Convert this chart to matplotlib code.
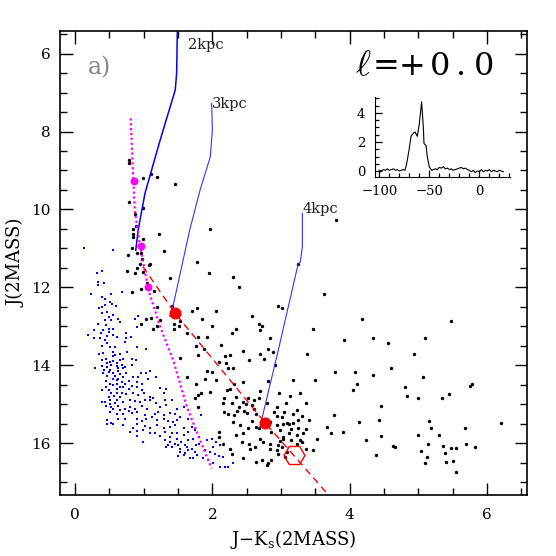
import matplotlib
matplotlib.use('Agg')
import matplotlib.pyplot as plt
from matplotlib.ticker import MultipleLocator

plt.rcParams['font.family'] = ['DejaVu Serif', 'DejaVu Sans']
plt.rcParams['mathtext.fontset'] = 'dejavuserif'

# ---------------- data ----------------
black_pts = [
    (0.78, 8.72), (0.79, 8.82), (0.99, 9.20), (1.10, 9.08), (1.20, 9.16), (1.46, 9.35),
    (0.79, 9.82), (0.88, 10.12), (0.99, 9.96), (0.85, 10.49), (0.89, 10.43), (1.97, 10.51),
    (3.80, 10.28),
    (0.85, 10.63), (0.84, 10.72), (0.99, 10.77), (1.22, 10.62), (0.83, 11.00), (0.77, 11.16),
    (0.91, 11.13), (0.96, 11.11), (1.29, 11.06), (0.97, 11.28), (0.95, 11.39), (1.09, 11.39),
    (1.08, 11.42), (0.91, 11.51), (0.76, 11.58), (0.87, 11.64), (0.99, 11.60), (1.38, 11.76),
    (1.77, 11.35), (1.05, 11.88), (0.96, 12.04), (0.83, 12.12), (1.15, 12.10), (1.20, 12.50),
    (1.41, 12.48), (1.77, 12.54), (1.71, 12.61), (1.03, 12.80), (1.11, 12.79), (0.96, 12.93),
    (1.24, 12.84), (1.53, 12.86), (1.44, 12.95), (1.51, 13.00), (1.44, 13.07), (1.13, 13.07),
    (1.20, 13.00), (1.63, 13.17), (1.79, 13.27), (1.76, 13.51),
    (1.53, 13.81), (1.79, 13.74), (1.63, 14.30), (1.76, 14.49), (1.79, 14.77), (1.75, 14.83),
    (1.79, 15.07),
    (3.25, 11.39), (1.95, 11.64), (2.30, 11.73), (2.39, 11.99), (2.05, 12.60), (2.95, 12.48),
    (3.02, 12.54), (1.85, 12.81), (2.57, 12.73), (2.68, 12.94), (2.72, 13.00), (2.00, 13.00),
    (2.34, 13.07), (2.69, 13.10), (2.28, 13.17), (3.47, 13.07), (1.92, 13.28), (2.84, 13.29),
    (2.12, 13.48), (1.88, 13.58), (2.81, 13.58),
    (2.18, 13.77), (2.26, 13.74), (2.44, 13.64), (2.69, 13.71), (2.89, 13.65), (3.38, 13.70),
    (2.10, 13.91), (2.20, 13.95), (2.54, 13.87), (2.75, 13.85), (2.91, 14.00),
    (2.23, 14.08), (2.30, 14.08), (1.92, 14.14), (2.00, 14.17),
    (1.89, 14.36), (2.05, 14.38), (2.45, 14.44), (2.32, 14.48), (2.81, 14.41), (3.18, 14.37),
    (3.49, 14.38),
    (2.26, 14.60), (2.21, 14.64), (2.70, 14.66), (2.97, 14.70), (3.28, 14.71), (1.84, 14.70),
    (1.96, 14.68),
    (2.17, 14.85), (2.34, 14.81), (2.52, 14.85), (2.60, 14.90), (2.68, 14.85), (3.13, 14.78),
    (2.16, 14.96), (2.28, 14.96), (2.45, 14.94), (2.49, 15.00), (2.57, 15.02), (2.79, 14.98),
    (3.07, 14.96), (3.36, 14.96),
    (2.39, 15.07), (2.36, 15.17), (2.60, 15.11), (2.94, 15.08), (2.90, 15.19), (3.23, 15.15),
    (3.17, 15.26), (3.04, 15.19),
    (2.17, 15.19), (2.23, 15.26), (2.32, 15.28), (2.46, 15.17), (2.50, 15.22), (2.64, 15.26),
    (2.94, 15.31), (3.01, 15.32), (3.41, 15.41), (3.31, 15.30),
    (2.30, 15.45), (2.57, 15.43), (2.84, 15.45), (3.08, 15.48), (3.11, 15.51), (3.03, 15.51),
    (3.18, 15.49), (3.25, 15.41),
    (2.40, 15.54), (2.52, 15.60), (2.64, 15.58), (2.94, 15.54), (2.68, 15.62), (2.98, 15.67),
    (3.15, 15.64), (3.37, 15.64), (3.24, 15.60),
    (2.09, 15.71), (2.45, 15.75), (2.86, 15.71), (3.11, 15.75), (3.03, 15.84), (3.23, 15.79),
    (3.32, 15.75),
    (2.09, 15.84), (2.35, 15.79), (2.69, 15.88), (3.03, 15.88), (2.98, 15.94), (3.14, 15.91),
    (3.28, 15.92), (3.52, 15.88),
    (2.16, 16.01), (2.43, 15.98), (2.54, 16.03), (2.73, 15.97), (2.84, 16.01), (2.96, 16.05),
    (3.01, 16.09), (3.23, 16.01), (3.30, 15.97),
    (2.25, 16.14), (2.55, 16.14), (2.62, 16.09), (2.84, 16.16), (2.94, 16.18), (3.08, 16.22),
    (3.37, 16.16), (3.47, 16.18),
    (2.28, 16.27), (2.45, 16.39), (2.72, 16.44), (2.86, 16.42), (2.96, 16.28), (3.06, 16.35),
    (2.79, 16.56), (2.64, 16.48), (2.81, 16.52),
    (3.62, 12.17), (4.18, 12.80), (3.92, 13.34), (4.34, 13.29), (4.56, 13.44), (5.09, 13.30),
    (4.94, 13.71), (3.79, 14.16), (4.08, 14.16), (4.34, 14.26), (4.60, 14.06), (5.07, 14.29),
    (4.10, 14.49), (4.05, 14.63), (4.81, 14.56), (4.84, 14.78), (5.00, 14.84), (4.46, 15.05),
    (3.77, 15.27), (4.13, 15.46), (4.42, 15.41), (5.16, 15.44), (3.67, 15.58), (3.73, 15.75),
    (3.90, 15.71), (4.23, 15.93), (4.46, 15.81), (5.00, 15.78), (5.14, 16.02), (4.63, 16.06),
    (4.66, 16.10), (5.03, 16.21), (5.13, 16.35), (5.09, 16.52), (4.38, 16.31),
    (5.47, 12.86), (5.75, 14.52), (5.78, 14.48), (5.35, 14.83), (5.45, 14.74), (5.19, 15.62),
    (6.20, 15.48), (5.68, 15.60), (5.30, 15.79), (5.36, 16.07), (5.38, 16.25), (5.48, 16.13),
    (5.54, 16.12), (5.69, 16.03), (5.83, 16.09), (5.40, 16.49), (5.51, 16.45), (5.54, 16.74),
]

blue_pts = [
    (0.13, 10.98), (0.55, 11.04), (0.32, 11.63), (0.40, 11.58), (0.33, 11.86), (0.42, 11.90),
    (0.34, 11.93), (0.53, 12.16), (0.69, 12.11), (0.24, 12.16), (0.40, 12.24), (0.44, 12.29),
    (0.51, 12.37), (0.39, 12.50), (0.35, 12.52), (0.54, 12.43), (0.44, 12.46), (0.60, 12.48),
    (0.47, 12.63), (0.50, 12.77), (0.40, 12.67), (0.56, 12.71), (0.62, 12.80), (0.65, 12.88),
    (0.44, 12.83), (0.53, 12.84), (0.33, 12.93), (0.45, 12.97), (0.49, 13.06), (0.41, 13.10),
    (0.55, 13.06), (0.50, 13.14), (0.38, 13.18), (0.47, 13.25), (0.27, 13.10), (0.19, 13.23),
    (0.28, 13.31), (0.37, 13.31), (0.44, 13.34), (0.56, 13.23), (0.61, 13.27), (0.75, 13.31),
    (0.82, 13.27), (0.87, 12.82), (0.92, 12.74), (0.90, 13.01), (0.75, 13.18), (0.73, 13.40),
    (0.47, 13.44), (0.51, 13.53), (0.58, 13.54), (0.39, 13.51), (0.90, 13.53), (1.04, 13.57),
    (0.41, 13.68), (0.55, 13.65), (0.58, 13.74), (0.66, 13.71), (0.35, 13.71), (0.76, 13.65),
    (0.55, 13.76),
    (0.39, 13.87), (0.45, 13.85), (0.51, 13.91), (0.56, 13.88), (0.65, 13.87), (0.70, 13.85),
    (0.83, 13.85), (0.89, 13.87), (0.47, 13.95), (0.61, 13.94),
    (0.29, 14.08), (0.39, 14.02), (0.46, 14.04), (0.53, 13.99), (0.61, 14.02), (0.68, 13.99),
    (0.73, 14.04), (0.63, 14.08), (0.70, 14.08), (0.51, 14.11), (0.42, 14.12), (0.83, 13.99),
    (0.41, 14.19), (0.49, 14.17), (0.56, 14.21), (0.63, 14.14), (0.66, 14.23), (0.74, 14.19),
    (0.96, 14.21), (1.03, 14.21), (1.09, 14.14), (0.46, 14.28), (0.58, 14.28), (0.70, 14.29),
    (0.85, 14.29), (0.92, 14.29), (0.61, 14.38),
    (0.55, 14.34), (0.63, 14.36), (0.68, 14.42), (0.78, 14.40), (0.90, 14.42), (0.97, 14.47),
    (1.07, 14.34), (1.18, 14.31), (0.51, 14.47), (0.61, 14.47), (0.73, 14.47), (0.45, 14.40),
    (0.55, 14.51), (0.65, 14.55), (0.70, 14.57), (0.83, 14.53), (0.78, 14.62), (0.90, 14.55),
    (0.61, 14.62), (0.50, 14.64), (0.45, 14.57), (0.39, 14.64), (1.24, 14.59), (1.33, 14.62),
    (0.97, 14.64),
    (0.53, 14.71), (0.61, 14.72), (0.68, 14.71), (0.75, 14.74), (0.85, 14.72), (0.92, 14.77),
    (1.00, 14.71), (1.09, 14.81), (1.14, 14.85), (1.29, 14.71), (0.49, 14.81), (0.57, 14.79),
    (0.66, 14.81),
    (0.39, 14.94), (0.44, 14.94), (0.51, 14.89), (0.61, 14.89), (0.70, 14.94), (0.80, 14.89),
    (0.87, 14.91), (0.95, 14.94), (1.02, 14.89), (1.09, 14.88), (1.18, 14.96), (1.31, 14.89),
    (1.41, 14.88), (0.51, 15.00), (0.58, 14.98),
    (0.45, 15.05), (0.53, 15.07), (0.63, 15.05), (0.73, 15.11), (0.80, 15.07), (0.87, 15.11),
    (0.97, 15.05), (1.05, 15.11), (1.24, 15.07), (1.33, 15.02), (1.48, 15.11), (1.58, 15.07),
    (0.66, 15.15), (0.78, 15.17), (0.56, 15.13),
    (0.61, 15.24), (0.70, 15.24), (0.83, 15.22), (0.90, 15.19), (1.02, 15.28), (1.16, 15.24),
    (1.21, 15.19), (1.29, 15.28), (1.38, 15.22), (1.46, 15.25), (1.12, 15.32), (0.51, 15.19),
    (0.63, 15.37), (0.73, 15.39), (0.90, 15.37), (0.97, 15.42), (1.04, 15.37), (1.19, 15.41),
    (1.29, 15.37), (1.36, 15.42), (1.43, 15.45), (1.53, 15.32), (0.46, 15.41), (0.53, 15.49),
    (1.48, 15.41), (1.65, 15.37),
    (0.46, 15.51), (0.56, 15.51), (0.70, 15.54), (0.90, 15.51), (1.02, 15.56), (1.09, 15.60),
    (1.19, 15.54), (1.29, 15.62), (1.38, 15.58), (1.46, 15.54), (1.58, 15.62), (1.70, 15.58),
    (0.85, 15.62),
    (0.80, 15.71), (0.90, 15.68), (0.99, 15.66), (1.09, 15.75), (1.16, 15.73), (1.31, 15.71),
    (1.41, 15.75), (1.48, 15.73), (1.58, 15.79), (1.65, 15.71), (1.75, 15.66), (0.90, 15.82),
    (1.24, 15.82), (1.38, 15.85),
    (0.99, 15.96), (1.31, 15.92), (1.38, 15.96), (1.48, 15.90), (1.55, 15.96), (1.65, 15.92),
    (1.72, 15.88), (1.80, 15.85), (1.46, 16.01), (1.60, 16.05), (1.33, 16.09),
    (1.36, 16.05), (1.41, 16.09), (1.53, 16.16), (1.63, 16.09), (1.70, 16.14), (1.76, 16.05),
    (1.80, 16.01), (1.50, 16.05),
    (1.53, 16.22), (1.60, 16.26), (1.65, 16.18), (1.75, 16.22), (1.50, 16.33), (1.58, 16.31),
    (1.67, 16.39), (1.72, 16.37), (1.77, 16.31),
    (1.92, 15.92), (1.99, 15.88), (2.06, 15.97), (2.11, 16.05), (2.01, 16.09), (1.89, 16.18),
    (1.97, 16.22), (2.04, 16.27), (2.09, 16.33), (2.16, 16.35), (1.87, 16.39), (1.94, 16.44),
    (2.01, 16.50), (2.11, 16.61), (2.18, 16.62), (2.30, 16.52), (2.23, 16.62), (1.84, 15.28),
]

# distance tracks (J-Ks, J)
track_2kpc_x = [1.49, 1.48, 1.46, 1.24, 1.02, 0.92, 0.885]
track_2kpc_y = [5.45, 6.50, 6.93, 8.22, 9.58, 10.53, 11.05]
track_3kpc_x = [1.99, 2.00, 1.97, 1.82, 1.67, 1.43, 1.38]
track_3kpc_y = [7.28, 7.96, 8.65, 9.51, 10.53, 12.46, 12.75]
track_4kpc_x = [3.31, 3.31, 3.28, 3.25, 2.96, 2.69]
track_4kpc_y = [10.10, 10.96, 11.35, 11.39, 13.61, 15.60]
track_labels = ['2kpc', '3kpc', '4kpc']
label_x = [1.64, 1.99, 3.31]
label_y = [5.79, 7.30, 9.99]

# magenta dotted sequence and points
mag_line_x = [0.81, 0.87, 0.95, 1.07, 1.24, 1.43, 1.63, 1.82, 1.99]
mag_line_y = [7.66, 10.02, 10.96, 12.07, 13.01, 13.87, 15.07, 15.92, 16.65]
mag_dot_x = [0.86, 0.96, 1.06]
mag_dot_y = [9.27, 10.94, 11.99]

# red dashed reddening line and points
red_line_x = [0.99, 1.45, 2.77, 3.75]
red_line_y = [11.47, 12.65, 15.48, 17.45]
red_dot_x = [1.45, 2.77]
red_dot_y = [12.65, 15.48]
hex_x = [3.19]
hex_y = [16.31]

# inset CO spectrum: velocity (km/s) vs T
vel = [-100, -98, -96, -94, -92, -90, -88, -86, -84, -82, -80, -78, -76, -74.3,
       -72.7, -70.3, -68.3, -67.7, -66, -64.3, -62, -60, -57.7, -56, -55.3, -53.3,
       -52, -50, -47.7, -46, -44, -42, -40, -38, -36, -34, -32, -30, -28, -26, -24,
       -22, -20, -18, -16, -14, -12, -10, -8, -6, -4, -2, 0, 2, 4, 6, 8, 10, 12, 14,
       16, 18, 20, 22, 24]
temp = [0.05, 0.0, 0.1, 0.05, 0.15, 0.05, 0.1, 0.15, 0.05, 0.1, 0.0, 0.05, 0.1, 0.05,
        0.5, 1.43, 2.39, 2.46, 2.6, 2.69, 2.39, 3.26, 4.76, 3.03, 1.89, 1.77,
        0.97, 0.28, 0.05, 0.1, 0.15, 0.1, 0.25, 0.2, 0.3, 0.15, 0.2, 0.1, 0.15, 0.05, 0.1,
        0.15, 0.2, 0.25, 0.15, 0.2, 0.1, 0.05, -0.05, 0.05, -0.1, 0.0, -0.05, 0.1, -0.05,
        0.05, 0.0, 0.1, -0.05, 0.05, 0.0, -0.05, 0.05, 0.0, -0.05]

# longitude label, drawn glyph by glyph (wide Hershey-like spacing of the original)
lon_chars = [r'$\ell$', '=', '+', '0', '.', '0']
lon_xpos = [0.653, 0.694, 0.741, 0.791, 0.829, 0.871]

# ---------------- figure ----------------
fig = plt.figure(figsize=(5.56, 5.56), dpi=100)
ax = fig.add_axes([0.1079, 0.1097, 0.8399, 0.8345])

bx = [p[0] for p in blue_pts]
by = [p[1] for p in blue_pts]
kx = [p[0] for p in black_pts]
ky = [p[1] for p in black_pts]
ax.scatter(bx, by, s=3, marker='s', c='#0000ff', linewidths=0, zorder=2)
ax.scatter(kx, ky, s=6, marker='o', c='black', linewidths=0, zorder=3)

ax.plot(track_2kpc_x, track_2kpc_y, color='#0000ff', lw=1.1, zorder=4)
ax.plot(track_3kpc_x, track_3kpc_y, color='#3333ff', lw=0.8, zorder=4)
ax.plot(track_4kpc_x, track_4kpc_y, color='#3333ff', lw=0.8, zorder=4)
for t, x, y in zip(track_labels, label_x, label_y):
    ax.text(x, y, t, fontsize=10.5, color='#222222', ha='left', va='center')

ax.plot(mag_line_x, mag_line_y, color='#ff00ff', lw=1.6, ls=(0, (1, 1.2)), zorder=4)
ax.scatter(mag_dot_x, mag_dot_y, s=32, c='#ff00ff', linewidths=0, zorder=5)

ax.plot(red_line_x, red_line_y, color='#ff0000', lw=1.0, ls=(0, (5, 3.5)), zorder=4)
ax.scatter(red_dot_x, red_dot_y, s=75, c='#ff0000', linewidths=0, zorder=5)
ax.plot(hex_x, hex_y, marker='H', ms=15, mfc='none', mec='#ff0000', mew=1.0,
        ls='none', zorder=5)

ax.text(0.19, 6.35, 'a)', fontsize=17, color='#888888', ha='left', va='center')

ax.set_xlim(-0.218, 6.58)
ax.set_ylim(17.33, 5.42)
ax.xaxis.set_major_locator(MultipleLocator(2))
ax.xaxis.set_minor_locator(MultipleLocator(0.5))
ax.yaxis.set_major_locator(MultipleLocator(2))
ax.yaxis.set_minor_locator(MultipleLocator(0.5))
ax.tick_params(which='both', direction='in', top=True, right=True, labelsize=11)
ax.tick_params(which='major', length=9, width=1.0)
ax.tick_params(which='minor', length=5, width=1.0)
ax.tick_params(axis='x', which='major', pad=9)
ax.tick_params(axis='y', which='major', pad=7)
for s in ax.spines.values():
    s.set_linewidth(1.2)
ax.set_xlabel(r'J$-$K$_{\rm s}$(2MASS)', fontsize=13, labelpad=5)
ax.set_ylabel('J(2MASS)', fontsize=13, labelpad=4)

for ch, xp in zip(lon_chars, lon_xpos):
    size = 26 if ch.startswith('$') else 23
    fig.text(xp, 0.865, ch, fontsize=size, ha='center', va='baseline',
             math_fontfamily='cm')

# inset spectrum
ins = fig.add_axes([0.6745, 0.6817, 0.2428, 0.1439])
ins.plot(vel, temp, color='black', lw=0.8)
ins.set_xlim(-104.3, 30.7)
ins.set_ylim(-0.41, 5.1)
ins.spines['top'].set_visible(False)
ins.spines['right'].set_visible(False)
ins.xaxis.set_major_locator(MultipleLocator(50))
ins.xaxis.set_minor_locator(MultipleLocator(10))
ins.yaxis.set_major_locator(MultipleLocator(2))
ins.yaxis.set_minor_locator(MultipleLocator(0.5))
ins.tick_params(which='both', direction='in', labelsize=9.5)
ins.tick_params(which='major', length=5, width=0.9)
ins.tick_params(which='minor', length=3, width=0.9)
ins.tick_params(axis='x', which='major', pad=6)
ins.tick_params(axis='y', which='major', pad=7)
ins.patch.set_alpha(0)

fig.savefig('out.png', dpi=100)
